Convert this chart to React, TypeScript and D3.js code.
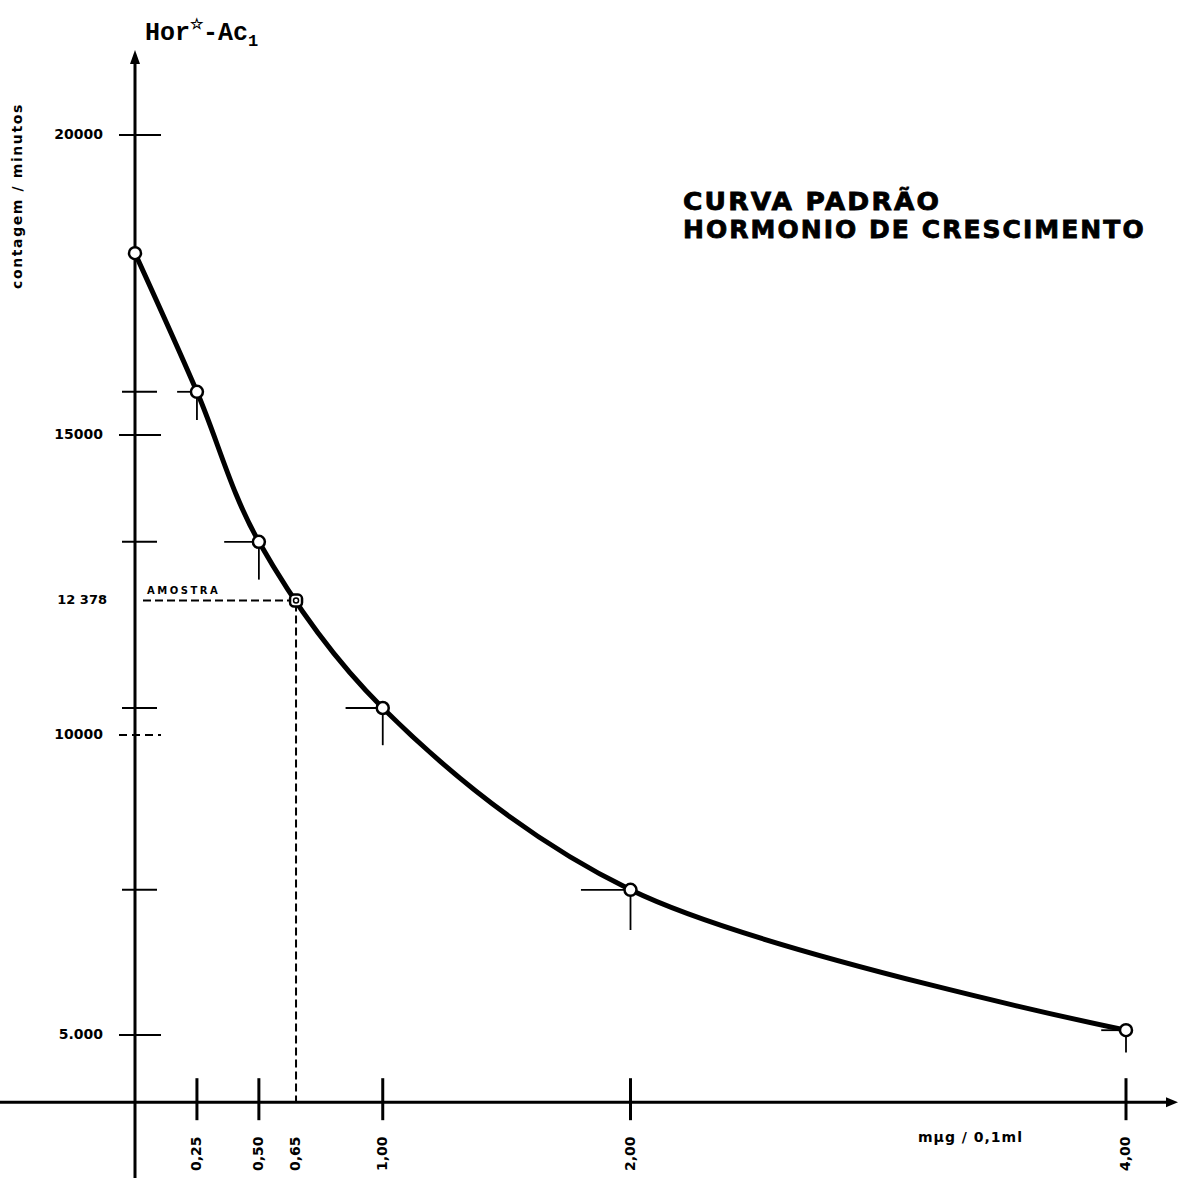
import React from "react";
import * as d3 from "d3";

// standard curve (dose in mµg / 0,1ml, counts per minute)
const doses = [0, 0.25, 0.5, 1, 2, 4];
const counts = [18030, 15720, 13220, 10450, 7420, 5080];
// one-sided spread marks drawn at each standard
const doseSpread = [0, 0.08, 0.14, 0.15, 0.2, 0.1];
const countSpread = [0, 470, 630, 620, 670, 370];

const sampleDose = 0.65;
const sampleCount = 12240;
const sampleLabel = "12 378";

const yTickValues = [20000, 15000, 10000, 5000];
const yTickLabels = ["20000", "15000", "10000", "5.000"];
const xTickValues = [0.25, 0.5, 1, 2, 4];
const xTickLabels = ["0,25", "0,50", "1,00", "2,00", "4,00"];
const sampleTickLabel = "0,65";

const W = 1178;
const H = 1178;
const axisCount = 3880; // where the dose axis crosses

export default function App() {
  const x = d3.scaleLinear().domain([0, 4]).range([135, 1126]);
  const y = d3.scaleLinear().domain([5000, 20000]).range([1035, 135]);

  const x0 = x(0);
  const yAxis = y(axisCount);

  const pts = doses.map((d, i) => [x(d), y(counts[i])] as [number, number]);
  const line = d3.line().curve(d3.curveCatmullRom.alpha(0.5))(pts) || "";

  const bold = { fontFamily: "DejaVu Sans", fontWeight: 700 };

  return (
    <svg
      width={W}
      height={H}
      style={{ position: "absolute", left: 0, top: 0, background: "#fff" }}
    >
      {/* title */}
      <text
        transform="translate(683,210) scale(1.1,1)"
        fontSize={24}
        letterSpacing={2}
        {...bold}
        stroke="#000"
        strokeWidth={0.8}
      >
        CURVA  PADRÃO
      </text>
      <text
        transform="translate(683,238) scale(1.04,1)"
        fontSize={24}
        letterSpacing={2}
        {...bold}
        stroke="#000"
        strokeWidth={0.8}
      >
        HORMONIO DE CRESCIMENTO
      </text>

      {/* y axis name */}
      <text
        x={145}
        y={40}
        fontSize={25}
        fontFamily="Liberation Mono"
        fontWeight={700}
      >
        Hor
        <tspan fontSize={15} dy={-11}>☆</tspan>
        <tspan dy={11}>-Ac</tspan>
        <tspan fontSize={17} dy={6}>1</tspan>
      </text>
      <text
        transform={`translate(22,${196}) rotate(-90)`}
        textAnchor="middle"
        fontSize={14}
        letterSpacing={1.6}
        {...bold}
      >
        contagem / minutos
      </text>

      {/* axes */}
      <line x1={x0} x2={x0} y1={60} y2={H} stroke="#000" strokeWidth={3} />
      <path d={`M${x0},50 L${x0 - 5},64 L${x0 + 5},64 Z`} fill="#000" />
      <line x1={0} x2={1168} y1={yAxis} y2={yAxis} stroke="#000" strokeWidth={3} />
      <path
        d={`M1178,${yAxis} L1166,${yAxis - 5} L1166,${yAxis + 5} Z`}
        fill="#000"
      />

      {/* y ticks */}
      {yTickValues.map((v, i) => (
        <g key={v}>
          <line
            x1={x0 - 16}
            x2={x0 + 26}
            y1={y(v)}
            y2={y(v)}
            stroke="#000"
            strokeWidth={2}
            strokeDasharray={v === 10000 ? "8 5" : undefined}
          />
          <text
            x={x0 - 32}
            y={y(v)}
            textAnchor="end"
            dominantBaseline="middle"
            fontSize={14}
            {...bold}
          >
            {yTickLabels[i]}
          </text>
        </g>
      ))}
      {counts.slice(1, 5).map((c) => (
        <line
          key={c}
          x1={x0 - 13}
          x2={x0 + 22}
          y1={y(c)}
          y2={y(c)}
          stroke="#000"
          strokeWidth={2}
        />
      ))}

      {/* x ticks */}
      {xTickValues.map((v, i) => (
        <g key={v}>
          <line
            x1={x(v)}
            x2={x(v)}
            y1={yAxis - 24}
            y2={yAxis + 18}
            stroke="#000"
            strokeWidth={3}
          />
          <text
            transform={`translate(${x(v)},1171) rotate(-90)`}
            dominantBaseline="middle"
            fontSize={14}
            {...bold}
          >
            {xTickLabels[i]}
          </text>
        </g>
      ))}
      <text
        transform={`translate(${x(sampleDose)},1171) rotate(-90)`}
        dominantBaseline="middle"
        fontSize={14}
        {...bold}
      >
        {sampleTickLabel}
      </text>
      <text x={918} y={1142} fontSize={14} letterSpacing={1} {...bold}>
        mµg / 0,1ml
      </text>

      {/* sample read-off */}
      <path
        d={`M${x0 + 8},${y(sampleCount)} H${x(sampleDose)} V${yAxis}`}
        fill="none"
        stroke="#000"
        strokeWidth={2}
        strokeDasharray="8 4"
      />
      <text x={147} y={y(sampleCount) - 7} fontSize={10} letterSpacing={2.5} {...bold}>
        AMOSTRA
      </text>
      <text
        x={x0 - 28}
        y={y(sampleCount)}
        textAnchor="end"
        dominantBaseline="middle"
        fontSize={13}
        {...bold}
      >
        {sampleLabel}
      </text>

      {/* spread marks */}
      {doses.map((d, i) =>
        doseSpread[i] > 0 ? (
          <g key={d} stroke="#000" strokeWidth={1.8}>
            <line
              x1={x(d - doseSpread[i])}
              x2={x(d)}
              y1={y(counts[i])}
              y2={y(counts[i])}
            />
            <line
              x1={x(d)}
              x2={x(d)}
              y1={y(counts[i])}
              y2={y(counts[i] - countSpread[i])}
            />
          </g>
        ) : null
      )}

      {/* curve */}
      <path d={line} fill="none" stroke="#000" strokeWidth={5} />

      {/* points */}
      {doses.map((d, i) => (
        <circle
          key={d}
          cx={x(d)}
          cy={y(counts[i])}
          r={6}
          fill="#fff"
          stroke="#000"
          strokeWidth={2.5}
        />
      ))}
      <rect
        x={x(sampleDose) - 6}
        y={y(sampleCount) - 6}
        width={12}
        height={12}
        rx={4}
        fill="#fff"
        stroke="#000"
        strokeWidth={2.5}
      />
      <circle cx={x(sampleDose)} cy={y(sampleCount)} r={2.5} fill="none" stroke="#000" strokeWidth={1.5} />
    </svg>
  );
}
